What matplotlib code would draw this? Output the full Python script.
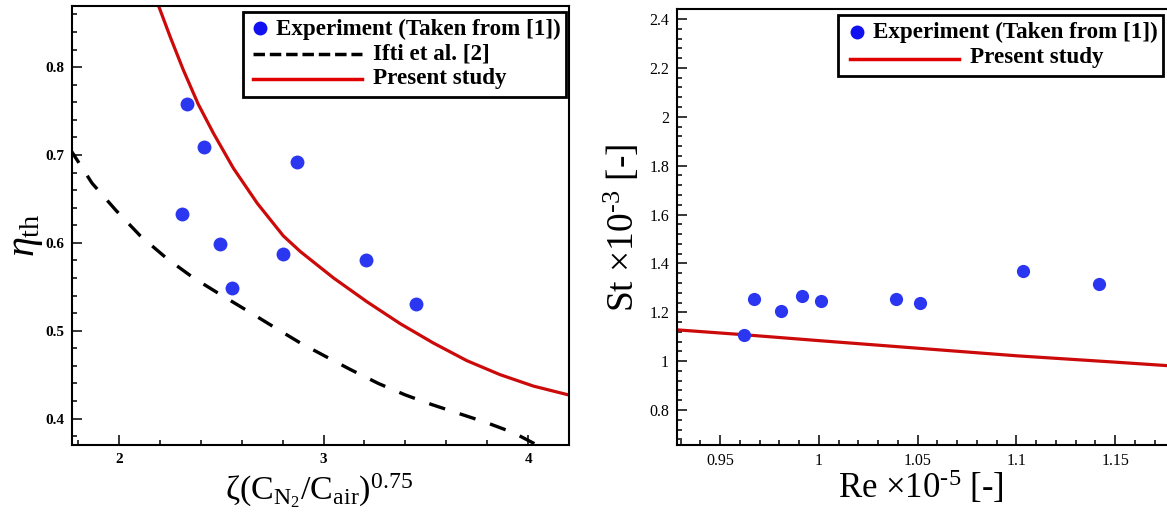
import numpy as np
import matplotlib
matplotlib.use('Agg')
import matplotlib.pyplot as plt
from matplotlib.ticker import MultipleLocator
from matplotlib.patches import Rectangle
from matplotlib.lines import Line2D

plt.rcParams['font.family'] = ['Liberation Serif', 'DejaVu Serif']
plt.rcParams['mathtext.fontset'] = 'custom'
plt.rcParams['mathtext.rm'] = 'Liberation Serif'
plt.rcParams['mathtext.it'] = 'Liberation Serif:italic'
plt.rcParams['mathtext.bf'] = 'Liberation Serif:bold'

# ---------------- data: left panel ----------------
left_exp_x = [2.330, 2.416, 2.868, 2.306, 2.494, 2.804, 2.550, 3.209, 3.454]
left_exp_y = [0.758, 0.709, 0.692, 0.633, 0.599, 0.587, 0.549, 0.581, 0.530]

left_present_x = [2.185, 2.251, 2.314, 2.387, 2.461, 2.559, 2.676, 2.803, 2.887,
                  3.049, 3.212, 3.375, 3.537, 3.700, 3.863, 4.026, 4.197, 4.25]
left_present_y = [0.875, 0.834, 0.797, 0.758, 0.725, 0.685, 0.645, 0.608, 0.590,
                  0.560, 0.533, 0.508, 0.486, 0.466, 0.450, 0.437, 0.427, 0.424]

left_ifti_x = [1.760, 1.868, 1.985, 2.104, 2.235, 2.365, 2.490, 2.640, 2.780, 2.887,
               3.008, 3.130, 3.268, 3.399, 3.529, 3.659, 3.790, 3.928, 4.060]
left_ifti_y = [0.707, 0.668, 0.637, 0.608, 0.582, 0.560, 0.542, 0.521, 0.501, 0.486,
               0.471, 0.456, 0.440, 0.427, 0.416, 0.406, 0.396, 0.384, 0.368]

left_xticks = [2, 3, 4]
left_xtick_labels = ['2', '3', '4']
left_yticks = [0.4, 0.5, 0.6, 0.7, 0.8]
left_ytick_labels = ['0.4', '0.5', '0.6', '0.7', '0.8']

# ---------------- data: right panel ----------------
right_exp_x = [0.9623, 0.9669, 0.9810, 0.9912, 1.0008, 1.0391, 1.0511, 1.1034, 1.1417]
right_exp_y = [1.106, 1.253, 1.204, 1.265, 1.248, 1.254, 1.238, 1.371, 1.314]

right_present_x = [0.925, 0.9623, 1.000, 1.050, 1.100, 1.150, 1.185]
right_present_y = [1.130, 1.108, 1.084, 1.053, 1.022, 0.996, 0.977]

right_xticks = [0.95, 1.0, 1.05, 1.1, 1.15]
right_xtick_labels = ['0.95', '1', '1.05', '1.1', '1.15']
right_yticks = [0.8, 1.0, 1.2, 1.4, 1.6, 1.8, 2.0, 2.2, 2.4]
right_ytick_labels = ['0.8', '1', '1.2', '1.4', '1.6', '1.8', '2', '2.2', '2.4']

legend_exp = 'Experiment (Taken from [1])'
legend_ifti = 'Ifti et al. [2]'
legend_present = 'Present study'

DOT = '#2a36f0'
RED = '#cc0a0a'
LEG_RED = '#e00000'

fig = plt.figure(figsize=(11.67, 5.13), dpi=100)
axL = fig.add_axes([0.0613, 0.1326, 0.4263, 0.8548])
axR = fig.add_axes([0.5799, 0.1326, 0.4265, 0.8493])


def style_axes(ax, lab_size):
    for s in ax.spines.values():
        s.set_linewidth(1.5)
    ax.tick_params(which='both', direction='in', top=False, right=False,
                   width=1.1, pad=5.5, labelsize=lab_size)
    ax.tick_params(which='major', length=7.2)
    ax.tick_params(which='minor', length=3.6)


# ---------------- left panel ----------------
axL.plot(left_ifti_x, left_ifti_y, color='black', lw=2.4, dashes=(5.0, 4.6), zorder=2)
axL.plot(left_present_x, left_present_y, color=RED, lw=2.3, zorder=2,
         solid_joinstyle='round')
axL.plot(left_exp_x, left_exp_y, 'o', ms=10, color=DOT, mec='none', zorder=3)
axL.set_xlim(1.768, 4.2)
axL.set_ylim(0.370, 0.869)
axL.set_xticks(left_xticks, labels=left_xtick_labels, fontweight='bold', fontsize=11)
axL.set_yticks(left_yticks, labels=left_ytick_labels, fontweight='bold', fontsize=11)
axL.xaxis.set_minor_locator(MultipleLocator(0.2))
axL.yaxis.set_minor_locator(MultipleLocator(0.02))
style_axes(axL, 11)

axL.text(0.497, -0.1254, r'$\mathrm{\zeta(C_{N_2}/C_{air})^{0.75}}$', transform=axL.transAxes,
         ha='center', va='baseline', fontsize=24.5)
axL.text(-0.090, 0.479, r'$\eta_{\mathrm{th}}$', transform=axL.transAxes,
         ha='center', va='center', rotation=90, fontsize=29)

# legend (left)
axL.add_patch(Rectangle((0.345, 0.7936), 0.649, 0.194, transform=axL.transAxes,
                        facecolor='white', edgecolor='black', lw=2, zorder=5))
axL.add_line(Line2D([0.379], [0.950], marker='o', ms=10, color='#1010f0', mec='none',
                    transform=axL.transAxes, zorder=6))
axL.add_line(Line2D([0.365, 0.584], [0.892, 0.892], color='black', lw=2.5,
                    dashes=(3.3, 1.4), transform=axL.transAxes, zorder=6))
axL.add_line(Line2D([0.365, 0.584], [0.835, 0.835], color=LEG_RED, lw=2.5,
                    transform=axL.transAxes, zorder=6))
axL.text(0.411, 0.935, legend_exp, transform=axL.transAxes, fontsize=16.6,
         fontweight='bold', va='baseline', ha='left', zorder=7)
axL.text(0.606, 0.880, legend_ifti, transform=axL.transAxes, fontsize=16.6,
         fontweight='bold', va='baseline', ha='left', zorder=7)
axL.text(0.606, 0.823, legend_present, transform=axL.transAxes, fontsize=16.6,
         fontweight='bold', va='baseline', ha='left', zorder=7)

# ---------------- right panel ----------------
axR.plot(right_present_x, right_present_y, color=RED, lw=2.3, zorder=2)
axR.plot(right_exp_x, right_exp_y, 'o', ms=9.5, color=DOT, mec='none', zorder=3)
axR.set_xlim(0.928, 1.18)
axR.set_ylim(0.657, 2.44)
axR.set_xticks(right_xticks, labels=right_xtick_labels, fontsize=11.5)
axR.set_yticks(right_yticks, labels=right_ytick_labels, fontsize=11.5)
axR.xaxis.set_minor_locator(MultipleLocator(0.01))
axR.yaxis.set_minor_locator(MultipleLocator(0.04))
style_axes(axR, 11.5)

axR.text(0.49, -0.1216, r'Re $\times$10$^{\mathrm{\text{-}5}}$ [-]', transform=axR.transAxes,
         ha='center', va='baseline', fontsize=25)
axR.text(-0.110, 0.498, r'St $\times$10$^{\mathrm{\text{-}3}}$ [-]', transform=axR.transAxes,
         ha='center', va='center', rotation=90, fontsize=27)

# legend (right)
axR.add_patch(Rectangle((0.324, 0.847), 0.653, 0.140, transform=axR.transAxes,
                        facecolor='white', edgecolor='black', lw=2, zorder=5))
axR.add_line(Line2D([0.362], [0.948], marker='o', ms=10, color='#1010f0', mec='none',
                    transform=axR.transAxes, zorder=6))
axR.add_line(Line2D([0.348, 0.567], [0.886, 0.886], color=LEG_RED, lw=2.5,
                    transform=axR.transAxes, zorder=6))
axR.text(0.394, 0.933, legend_exp, transform=axR.transAxes, fontsize=16.6,
         fontweight='bold', va='baseline', ha='left', zorder=7)
axR.text(0.589, 0.876, legend_present, transform=axR.transAxes, fontsize=16.6,
         fontweight='bold', va='baseline', ha='left', zorder=7)

fig.savefig('out.png', dpi=100)
